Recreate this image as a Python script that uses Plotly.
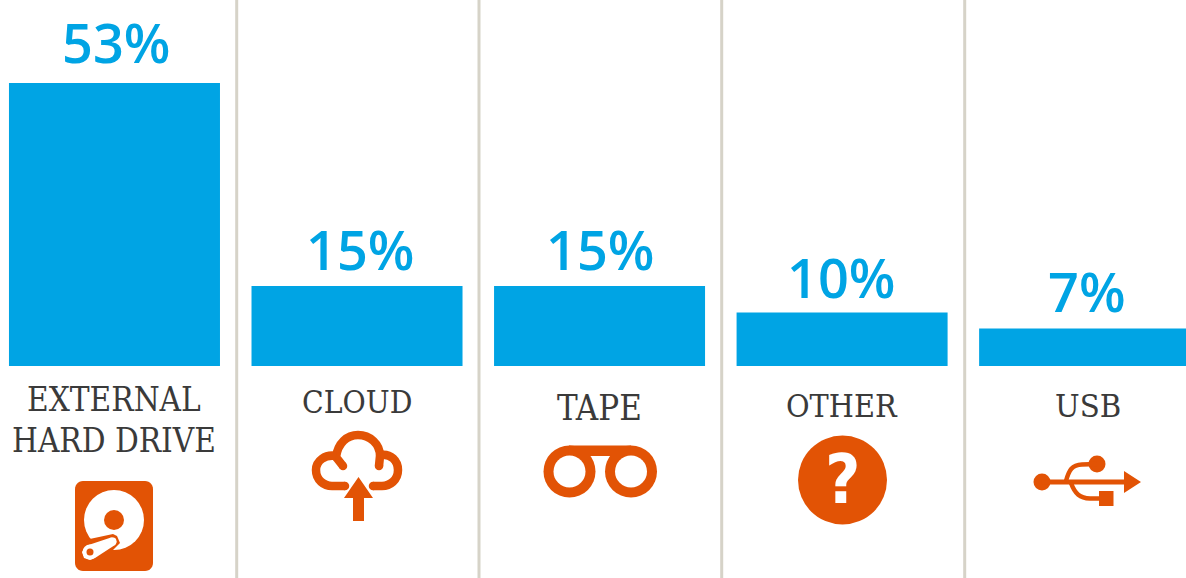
import numpy as np
import plotly.graph_objects as go

W, H = 1186, 578
categories = ["External", "Cloud", "Tape", "Other", "USB"]
values = [53, 15, 15, 10, 7]
value_labels = ["53%", "15%", "15%", "10%", "7%"]
axis_labels = [["EXTERNAL", "HARD DRIVE"], ["CLOUD"], ["TAPE"], ["OTHER"], ["USB"]]

# layout tuning, kept apart from the data
value_x_shift = [2, 2.5, 0, -1.5, 2.5]
value_y_shift = [2, -2, -2, -3, -1]
label_y_px = [400, 402, 408, 406, 406]
label_x_shift = [0, 0, 0, 0, 3]
label_size = [33, 31.5, 34.5, 32, 32.5]
dividers_px = [236.7, 479, 721.7, 964.7]

BLUE = "#00a4e4"
ORANGE = "#e25305"
GREY = "#d6d3c8"
TEXT = "#3a3a3a"


def fx(x):
    return x / W


def fy(y):
    return 1 - y / H


def path(*segs, close=False):
    out = []
    for cmd, *pts in segs:
        out.append(cmd + " " + " ".join(f"{fx(x):.5f},{fy(y):.5f}" for x, y in pts))
    return " ".join(out) + (" Z" if close else "")


shapes = []


def poly(pts, color):
    segs = [("M", pts[0])] + [("L", p) for p in pts[1:]]
    shapes.append(dict(type="path", xref="paper", yref="paper", path=path(*segs, close=True),
                       fillcolor=color, line=dict(width=0), layer="above"))


def circle(cx, cy, r, color):
    shapes.append(dict(type="circle", xref="paper", yref="paper", x0=fx(cx - r), x1=fx(cx + r),
                       y0=fy(cy + r), y1=fy(cy - r), fillcolor=color, line=dict(width=0), layer="above"))


def stroke(segs, width, color=ORANGE):
    shapes.append(dict(type="path", xref="paper", yref="paper", path=path(*segs),
                       fillcolor="rgba(0,0,0,0)", line=dict(color=color, width=width), layer="above"))


def round_rect(x0, y0, x1, y1, r, color):
    pts = []
    for cx, cy, a0 in [(x1 - r, y0 + r, -90), (x1 - r, y1 - r, 0), (x0 + r, y1 - r, 90), (x0 + r, y0 + r, 180)]:
        for a in np.radians(np.linspace(a0, a0 + 90, 8)):
            pts.append((cx + r * np.cos(a), cy + r * np.sin(a)))
    poly(pts, color)


for x in dividers_px:
    shapes.append(dict(type="line", xref="paper", yref="paper", x0=fx(x), x1=fx(x), y0=0, y1=1,
                       line=dict(color=GREY, width=3), layer="below"))

# Hard drive icon
round_rect(75, 481, 153, 571, 8, ORANGE)
circle(114, 520, 30, "#ffffff")
circle(114, 520, 10, ORANGE)
poly([(85, 540), (113, 534), (117, 536), (120, 543), (113, 550), (100, 562), (84, 562)], ORANGE)
poly([(87, 545.5), (111, 537.5), (115, 538), (116.5, 542), (115, 545), (95, 558), (90, 560), (84, 558), (82, 552)], "#ffffff")
circle(90, 552, 7.5, "#ffffff")
circle(112.5, 541.5, 4, "#ffffff")
circle(90, 552, 3.5, ORANGE)

# Cloud icon
stroke([("M", (343, 466)), ("L", (336, 457)), ("C", (338, 443), (347, 435), (358, 435)),
        ("C", (370, 435), (380, 444), (380, 456)), ("L", (379, 466))], 8.5)
stroke([("M", (336, 456)), ("C", (325, 454), (316, 461), (316, 470)),
        ("C", (316, 480), (324, 486), (332, 486)), ("L", (345, 486))], 8.5)
stroke([("M", (380, 455)), ("C", (391, 453), (398, 461), (398, 470)),
        ("C", (398, 480), (390, 486), (382, 486)), ("L", (373, 486))], 8.5)
for p in [(343, 466), (379, 466), (345, 486), (373, 486)]:
    circle(p[0], p[1], 4.25, ORANGE)
poly([(358.5, 477), (373, 498), (364, 498), (364, 521), (353, 521), (353, 498), (344, 498)], ORANGE)

# Tape icon
circle(569.5, 471.5, 26, ORANGE)
circle(631, 471.5, 26, ORANGE)
poly([(569, 445.5), (631, 445.5), (631, 456), (569, 456)], ORANGE)
circle(569.5, 471.5, 16, "#ffffff")
circle(631, 471.5, 16, "#ffffff")

# Question icon
circle(842.5, 480, 44.5, ORANGE)

# USB icon
circle(1042, 482, 8.5, ORANGE)
circle(1097, 464, 8.5, ORANGE)
poly([(1042, 479.5), (1124, 479.5), (1124, 471), (1141, 482), (1124, 493), (1124, 484.5), (1042, 484.5)], ORANGE)
stroke([("M", (1066, 481)), ("C", (1069, 470), (1072, 465), (1082, 464.5)), ("L", (1097, 464))], 4.5)
stroke([("M", (1071, 483)), ("C", (1075, 494), (1080, 498), (1090, 498.5)), ("L", (1100, 498.5))], 4.5)
poly([(1099, 491), (1113.5, 491), (1113.5, 506), (1099, 506)], ORANGE)

annotations = []
for cat, val, lab, dx, dy in zip(categories, values, value_labels, value_x_shift, value_y_shift):
    annotations.append(dict(x=cat, xref="x", y=val, yref="y", text=lab, showarrow=False,
                            xanchor="center", yanchor="bottom", xshift=dx, yshift=dy,
                            font=dict(family="Open Sans, Noto Sans", size=54, color=BLUE, weight=600)))
for cat, lines, y, dx, size in zip(categories, axis_labels, label_y_px, label_x_shift, label_size):
    for k, line in enumerate(lines):
        annotations.append(dict(x=cat, xref="x", y=fy(y + 40 * k), yref="paper", text=line, showarrow=False,
                                xanchor="center", yanchor="middle", xshift=dx,
                                font=dict(family="DejaVu Serif Condensed, DejaVu Serif, serif", size=size, color=TEXT)))
annotations.append(dict(x=fx(842.5), xref="paper", y=fy(479), yref="paper", text="<b>?</b>", showarrow=False,
                        xanchor="center", yanchor="middle",
                        font=dict(family="DejaVu Sans Condensed, Liberation Sans Narrow", size=68, color="#ffffff")))

fig = go.Figure(go.Bar(
    x=categories, y=values, width=0.87, marker=dict(color=BLUE, line=dict(width=0)),
    hoverinfo="skip",
))
fig.update_layout(
    width=W, height=H, margin=dict(l=0, r=0, t=0, b=0),
    paper_bgcolor="#ffffff", plot_bgcolor="#ffffff", showlegend=False,
    shapes=shapes, annotations=annotations,
    xaxis=dict(type="category", range=[-0.472, 4.418], visible=False, fixedrange=True),
    yaxis=dict(range=[-39.7, 68.54], visible=False, fixedrange=True),
)
fig.write_html("out.html", config=dict(displayModeBar=False),
               post_script="document.body.style.margin='0';document.body.style.overflow='hidden';")
